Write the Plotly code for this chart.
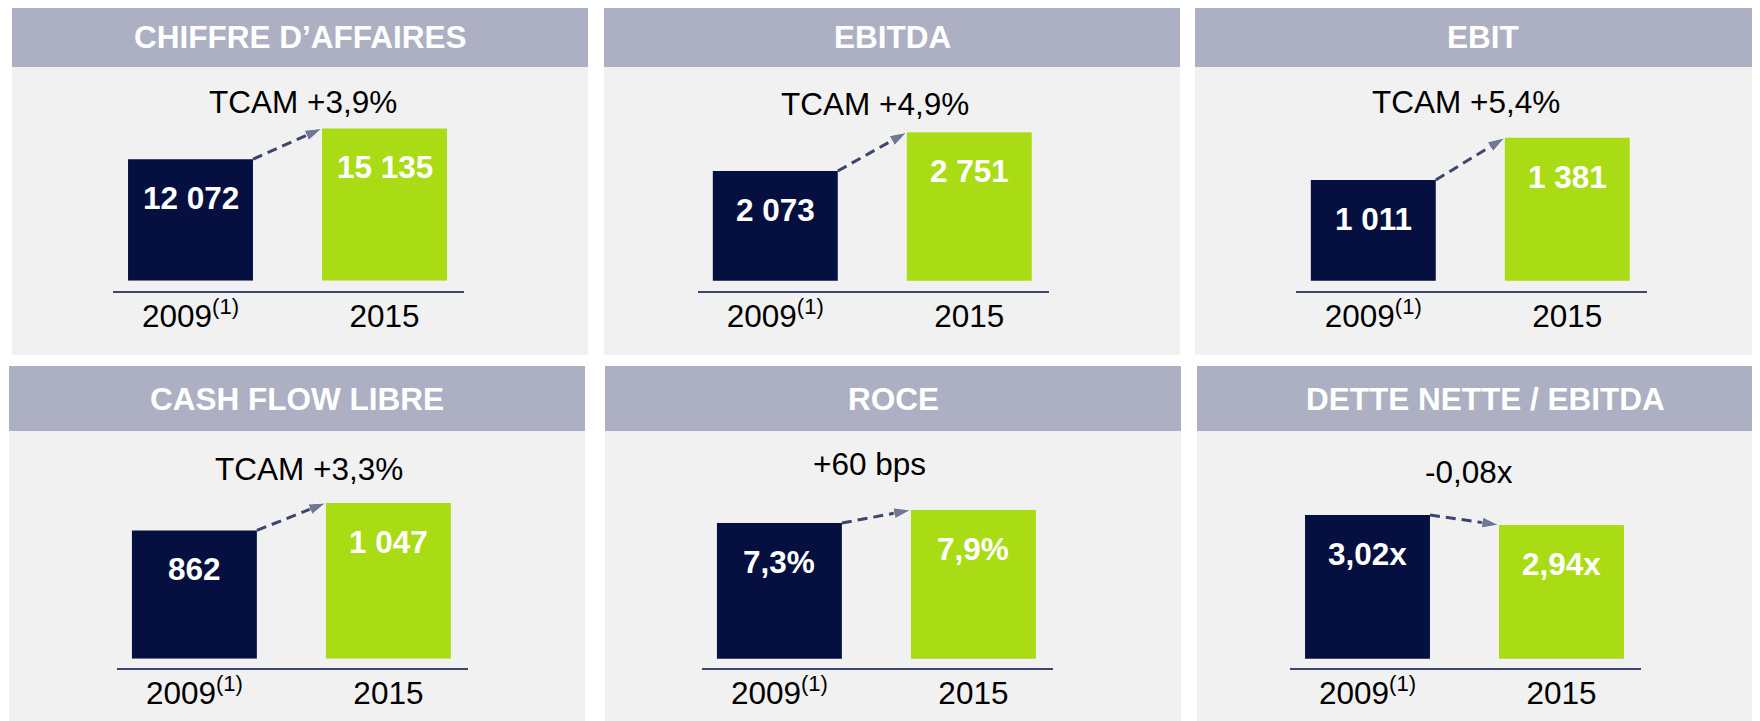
import plotly.graph_objects as go

# ------------------------------------------------------------
# Data
# ------------------------------------------------------------
titles = ["CHIFFRE D’AFFAIRES", "EBITDA", "EBIT",
          "CASH FLOW LIBRE", "ROCE", "DETTE NETTE / EBITDA"]
years = ["2009<sup>(1)</sup>", "2015"]
values_2009 = [12072, 2073, 1011, 862, 7.3, 3.02]
values_2015 = [15135, 2751, 1381, 1047, 7.9, 2.94]
labels_2009 = ["12 072", "2 073", "1 011", "862", "7,3%", "3,02x"]
labels_2015 = ["15 135", "2 751", "1 381", "1 047", "7,9%", "2,94x"]
changes = ["TCAM +3,9%", "TCAM +4,9%", "TCAM +5,4%",
           "TCAM +3,3%", "+60 bps", "-0,08x"]

# ------------------------------------------------------------
# Look & layout (pixels of the 1760x721 page)
# ------------------------------------------------------------
W, H = 1760, 721
OFF = 8  # default <body> margin of the html page
NAVY = "#051041"
GREEN = "#A9DC14"
HEADER_BG = "#ADB0C2"
PANEL_BG = "#F1F1F1"
LINE = "#3C4670"
FONT = "Liberation Sans, Arial, sans-serif"
FS = 31.5
BAR_W = 0.644
X_RANGE = [-0.4, 1.41]
CAT_PX = 194

panel_x = [(12, 588), (604, 1180), (1195, 1771), (9, 585), (605, 1181), (1197, 1773)]
header_y = [(7, 67)] * 3 + [(366, 431)] * 3
body_bottom = [355] * 3 + [730] * 3
title_cx = [300, 892, 1483, 297, 893, 1485]
bar0_cx = [190.5, 775.3, 1373.3, 194.4, 779.4, 1367.5]
plot_bottom = [280.7] * 3 + [658.7] * 3
plot_top = [120] * 3 + [495] * 3
axis_y = [292] * 3 + [669] * 3
y_ranges = [(0, 15970), (150, 2966), (130, 1536), (0, 1100), (1.0, 8.6), (1.87, 3.18)]
change_xy = [(303, 101.7), (875, 104.5), (1466, 101.7),
             (309, 468.5), (869, 463.6), (1469, 471.7)]


def px(x):
    return (x - OFF) / W


def py(y):
    return 1 - (y - OFF) / H


fig = go.Figure()
layout = {}
shapes = []
annotations = []

for i in range(6):
    n = "" if i == 0 else str(i + 1)
    xa, ya = "x" + n, "y" + n
    v = [values_2009[i], values_2015[i]]

    # panel background + header band
    x0, x1 = panel_x[i]
    shapes.append(dict(type="rect", xref="paper", yref="paper", layer="below",
                       x0=px(x0), x1=px(x1), y0=py(body_bottom[i]), y1=py(header_y[i][1]),
                       fillcolor=PANEL_BG, line_width=0))
    shapes.append(dict(type="rect", xref="paper", yref="paper", layer="below",
                       x0=px(x0), x1=px(x1), y0=py(header_y[i][1]), y1=py(header_y[i][0]),
                       fillcolor=HEADER_BG, line_width=0))
    annotations.append(dict(xref="paper", yref="paper", x=px(title_cx[i]),
                            y=py(sum(header_y[i]) / 2), text=f"<b>{titles[i]}</b>",
                            showarrow=False, xanchor="center", yanchor="middle",
                            font=dict(family=FONT, size=FS, color="white")))
    annotations.append(dict(xref="paper", yref="paper", x=px(change_xy[i][0]),
                            y=py(change_xy[i][1]), text=changes[i], showarrow=False,
                            xanchor="center", yanchor="middle",
                            font=dict(family=FONT, size=FS, color="black")))

    # bars
    fig.add_trace(go.Bar(x=[0, 1], y=v, width=BAR_W, marker_color=[NAVY, GREEN],
                         marker_line_width=0, xaxis=xa, yaxis=ya, hoverinfo="skip"))
    # dashed growth arrow from corner to corner
    half = BAR_W / 2
    fig.add_trace(go.Scatter(x=[half, 1 - half], y=v, mode="lines+markers",
                             line=dict(color=LINE, width=3, dash="10px,6px"),
                             marker=dict(symbol=["circle", "arrow"], size=[0, 18],
                                         angleref="previous", color=LINE),
                             cliponaxis=False, xaxis=xa, yaxis=ya, hoverinfo="skip"))
    # value labels inside the bars
    for j, t in enumerate([labels_2009[i], labels_2015[i]]):
        annotations.append(dict(xref=xa, yref=ya, x=j, y=v[j], text=f"<b>{t}</b>",
                                showarrow=False, yanchor="middle", yshift=-39,
                                font=dict(family=FONT, size=FS, color="white")))

    left = bar0_cx[i] - (0 - X_RANGE[0]) * CAT_PX
    right = left + (X_RANGE[1] - X_RANGE[0]) * CAT_PX
    layout["xaxis" + n] = dict(domain=[px(left), px(right)], range=X_RANGE,
                               anchor="free", position=py(axis_y[i]),
                               showline=True, linecolor=LINE, linewidth=2,
                               tickvals=[0, 1], ticktext=years, ticks="",
                               ticklabelstandoff=-4,
                               showgrid=False, zeroline=False, fixedrange=True,
                               tickfont=dict(family=FONT, size=FS, color="black"))
    layout["yaxis" + n] = dict(domain=[py(plot_bottom[i]), py(plot_top[i])],
                               range=list(y_ranges[i]), visible=False,
                               anchor=xa, fixedrange=True)

fig.update_layout(width=W, height=H, margin=dict(l=0, r=0, t=0, b=0),
                  paper_bgcolor="white", plot_bgcolor="rgba(0,0,0,0)",
                  showlegend=False, shapes=shapes, annotations=annotations,
                  font=dict(family=FONT), **layout)

fig.write_html("out.html")
